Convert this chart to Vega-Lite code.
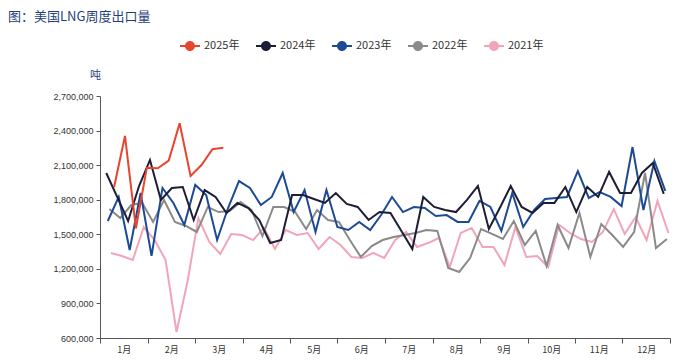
{
"$schema":"https://vega.github.io/schema/vega-lite/v6.json",
"width":570,"height":242,
"autosize":{"type":"none"},
"padding":{"left":100,"top":96,"right":6,"bottom":23},
"background":"white",
"title":{"text":"图：美国LNG周度出口量","anchor":"start","frame":"group","dx":-92,"offset":12,"fontSize":13,"font":"Noto Sans CJK SC","fontWeight":"normal","color":"#1f3f7a"},
"data":{"values":[
{"year":"2021年","day":7,"value":1338000},{"year":"2021年","day":14,"value":1312000},{"year":"2021年","day":21,"value":1277000},{"year":"2021年","day":28,"value":1563000},{"year":"2021年","day":35,"value":1450000},{"year":"2021年","day":42,"value":1277000},{"year":"2021年","day":49,"value":652000},{"year":"2021年","day":56,"value":1086000},{"year":"2021年","day":63,"value":1641000},{"year":"2021年","day":70,"value":1433000},
{"year":"2021年","day":77,"value":1329000},{"year":"2021年","day":84,"value":1503000},{"year":"2021年","day":91,"value":1494000},{"year":"2021年","day":98,"value":1450000},{"year":"2021年","day":105,"value":1555000},{"year":"2021年","day":112,"value":1372000},{"year":"2021年","day":119,"value":1537000},{"year":"2021年","day":126,"value":1494000},{"year":"2021年","day":133,"value":1511000},{"year":"2021年","day":140,"value":1372000},
{"year":"2021年","day":147,"value":1476000},{"year":"2021年","day":154,"value":1407000},{"year":"2021年","day":161,"value":1303000},{"year":"2021年","day":168,"value":1294000},{"year":"2021年","day":175,"value":1338000},{"year":"2021年","day":182,"value":1294000},{"year":"2021年","day":189,"value":1450000},{"year":"2021年","day":196,"value":1520000},{"year":"2021年","day":203,"value":1390000},{"year":"2021年","day":210,"value":1424000},
{"year":"2021年","day":217,"value":1468000},{"year":"2021年","day":224,"value":1216000},{"year":"2021年","day":231,"value":1511000},{"year":"2021年","day":238,"value":1555000},{"year":"2021年","day":245,"value":1390000},{"year":"2021年","day":252,"value":1390000},{"year":"2021年","day":259,"value":1233000},{"year":"2021年","day":266,"value":1563000},{"year":"2021年","day":273,"value":1303000},{"year":"2021年","day":280,"value":1312000},
{"year":"2021年","day":287,"value":1216000},{"year":"2021年","day":294,"value":1581000},{"year":"2021年","day":301,"value":1511000},{"year":"2021年","day":308,"value":1459000},{"year":"2021年","day":315,"value":1433000},{"year":"2021年","day":322,"value":1520000},{"year":"2021年","day":329,"value":1719000},{"year":"2021年","day":336,"value":1503000},{"year":"2021年","day":343,"value":1650000},{"year":"2021年","day":350,"value":1450000},
{"year":"2021年","day":357,"value":1789000},{"year":"2021年","day":364,"value":1511000},
{"year":"2022年","day":6,"value":1719000},{"year":"2022年","day":13,"value":1641000},{"year":"2022年","day":20,"value":1754000},{"year":"2022年","day":27,"value":1772000},{"year":"2022年","day":34,"value":1607000},{"year":"2022年","day":41,"value":1798000},{"year":"2022年","day":48,"value":1607000},{"year":"2022年","day":55,"value":1572000},{"year":"2022年","day":62,"value":1520000},{"year":"2022年","day":69,"value":1737000},
{"year":"2022年","day":76,"value":1693000},{"year":"2022年","day":83,"value":1702000},{"year":"2022年","day":90,"value":1780000},{"year":"2022年","day":97,"value":1711000},{"year":"2022年","day":104,"value":1485000},{"year":"2022年","day":111,"value":1737000},{"year":"2022年","day":118,"value":1737000},{"year":"2022年","day":125,"value":1693000},{"year":"2022年","day":132,"value":1546000},{"year":"2022年","day":139,"value":1711000},
{"year":"2022年","day":146,"value":1624000},{"year":"2022年","day":153,"value":1607000},{"year":"2022年","day":160,"value":1450000},{"year":"2022年","day":167,"value":1303000},{"year":"2022年","day":174,"value":1398000},{"year":"2022年","day":181,"value":1450000},{"year":"2022年","day":188,"value":1476000},{"year":"2022年","day":195,"value":1494000},{"year":"2022年","day":202,"value":1511000},{"year":"2022年","day":209,"value":1537000},
{"year":"2022年","day":216,"value":1529000},{"year":"2022年","day":223,"value":1207000},{"year":"2022年","day":230,"value":1173000},{"year":"2022年","day":237,"value":1294000},{"year":"2022年","day":244,"value":1546000},{"year":"2022年","day":251,"value":1503000},{"year":"2022年","day":258,"value":1459000},{"year":"2022年","day":265,"value":1615000},{"year":"2022年","day":272,"value":1407000},{"year":"2022年","day":279,"value":1529000},
{"year":"2022年","day":286,"value":1225000},{"year":"2022年","day":293,"value":1581000},{"year":"2022年","day":300,"value":1381000},{"year":"2022年","day":307,"value":1685000},{"year":"2022年","day":314,"value":1303000},{"year":"2022年","day":321,"value":1589000},{"year":"2022年","day":328,"value":1494000},{"year":"2022年","day":335,"value":1390000},{"year":"2022年","day":342,"value":1520000},{"year":"2022年","day":349,"value":2032000},
{"year":"2022年","day":356,"value":1381000},{"year":"2022年","day":363,"value":1459000},
{"year":"2023年","day":5,"value":1615000},{"year":"2023年","day":12,"value":1824000},{"year":"2023年","day":19,"value":1364000},{"year":"2023年","day":26,"value":1858000},{"year":"2023年","day":33,"value":1312000},{"year":"2023年","day":40,"value":1902000},{"year":"2023年","day":47,"value":1772000},{"year":"2023年","day":54,"value":1581000},{"year":"2023年","day":61,"value":1928000},{"year":"2023年","day":68,"value":1841000},
{"year":"2023年","day":75,"value":1450000},{"year":"2023年","day":82,"value":1728000},{"year":"2023年","day":89,"value":1962000},{"year":"2023年","day":96,"value":1902000},{"year":"2023年","day":103,"value":1754000},{"year":"2023年","day":110,"value":1824000},{"year":"2023年","day":117,"value":2032000},{"year":"2023年","day":124,"value":1693000},{"year":"2023年","day":131,"value":1884000},{"year":"2023年","day":138,"value":1520000},
{"year":"2023年","day":145,"value":1884000},{"year":"2023年","day":152,"value":1563000},{"year":"2023年","day":159,"value":1537000},{"year":"2023年","day":166,"value":1607000},{"year":"2023年","day":173,"value":1537000},{"year":"2023年","day":180,"value":1667000},{"year":"2023年","day":187,"value":1824000},{"year":"2023年","day":194,"value":1693000},{"year":"2023年","day":201,"value":1737000},{"year":"2023年","day":208,"value":1728000},
{"year":"2023年","day":215,"value":1659000},{"year":"2023年","day":222,"value":1667000},{"year":"2023年","day":229,"value":1607000},{"year":"2023年","day":236,"value":1607000},{"year":"2023年","day":243,"value":1789000},{"year":"2023年","day":250,"value":1737000},{"year":"2023年","day":257,"value":1529000},{"year":"2023年","day":264,"value":1858000},{"year":"2023年","day":271,"value":1563000},{"year":"2023年","day":278,"value":1711000},
{"year":"2023年","day":285,"value":1806000},{"year":"2023年","day":292,"value":1815000},{"year":"2023年","day":299,"value":1824000},{"year":"2023年","day":306,"value":2049000},{"year":"2023年","day":313,"value":1815000},{"year":"2023年","day":320,"value":1867000},{"year":"2023年","day":327,"value":1824000},{"year":"2023年","day":334,"value":1745000},{"year":"2023年","day":341,"value":2257000},{"year":"2023年","day":348,"value":1711000},
{"year":"2023年","day":355,"value":2136000},{"year":"2023年","day":362,"value":1876000},
{"year":"2024年","day":4,"value":2032000},{"year":"2024年","day":11,"value":1824000},{"year":"2024年","day":18,"value":1615000},{"year":"2024年","day":25,"value":1919000},{"year":"2024年","day":32,"value":2145000},{"year":"2024年","day":39,"value":1798000},{"year":"2024年","day":46,"value":1902000},{"year":"2024年","day":53,"value":1910000},{"year":"2024年","day":60,"value":1624000},{"year":"2024年","day":67,"value":1884000},
{"year":"2024年","day":74,"value":1824000},{"year":"2024年","day":81,"value":1685000},{"year":"2024年","day":88,"value":1772000},{"year":"2024年","day":95,"value":1728000},{"year":"2024年","day":102,"value":1624000},{"year":"2024年","day":109,"value":1424000},{"year":"2024年","day":116,"value":1450000},{"year":"2024年","day":123,"value":1841000},{"year":"2024年","day":130,"value":1841000},{"year":"2024年","day":137,"value":1806000},
{"year":"2024年","day":144,"value":1772000},{"year":"2024年","day":151,"value":1858000},{"year":"2024年","day":158,"value":1763000},{"year":"2024年","day":165,"value":1737000},{"year":"2024年","day":172,"value":1624000},{"year":"2024年","day":179,"value":1693000},{"year":"2024年","day":186,"value":1685000},{"year":"2024年","day":193,"value":1529000},{"year":"2024年","day":200,"value":1372000},{"year":"2024年","day":207,"value":1824000},
{"year":"2024年","day":214,"value":1737000},{"year":"2024年","day":221,"value":1711000},{"year":"2024年","day":228,"value":1693000},{"year":"2024年","day":235,"value":1798000},{"year":"2024年","day":242,"value":1919000},{"year":"2024年","day":249,"value":1546000},{"year":"2024年","day":256,"value":1728000},{"year":"2024年","day":263,"value":1919000},{"year":"2024年","day":270,"value":1737000},{"year":"2024年","day":277,"value":1685000},
{"year":"2024年","day":284,"value":1772000},{"year":"2024年","day":291,"value":1772000},{"year":"2024年","day":298,"value":1910000},{"year":"2024年","day":305,"value":1693000},{"year":"2024年","day":312,"value":1910000},{"year":"2024年","day":319,"value":1824000},{"year":"2024年","day":326,"value":2041000},{"year":"2024年","day":333,"value":1858000},{"year":"2024年","day":340,"value":1858000},{"year":"2024年","day":347,"value":2032000},
{"year":"2024年","day":354,"value":2119000},{"year":"2024年","day":361,"value":1850000},
{"year":"2025年","day":9,"value":1908000},{"year":"2025年","day":16,"value":2353000},{"year":"2025年","day":23,"value":1552000},{"year":"2025年","day":30,"value":2078000},{"year":"2025年","day":37,"value":2073000},{"year":"2025年","day":44,"value":2139000},{"year":"2025年","day":51,"value":2463000},{"year":"2025年","day":58,"value":2006000},{"year":"2025年","day":65,"value":2101000},{"year":"2025年","day":72,"value":2238000},
{"year":"2025年","day":79,"value":2251000}
]},
"mark":{"type":"line","strokeWidth":2,"interpolate":"linear"},
"encoding":{
"x":{"field":"day","type":"quantitative","scale":{"domain":[0,365],"nice":false,"zero":false},
"axis":{"values":[0,15.2083,30.4167,45.625,60.8333,76.0417,91.25,106.4583,121.6667,136.875,152.0833,167.2917,182.5,197.7083,212.9167,228.125,243.3333,258.5417,273.75,288.9583,304.1667,319.375,334.5833,349.7917,365],
"labelExpr":"round(datum.value*24/365) % 2 == 1 ? ((round(datum.value*24/365)+1)/2) + '月' : ''",
"tickOpacity":{"condition":{"test":"round(datum.value*24/365) % 2 == 0","value":1},"value":0},
"title":null,"grid":false,"labelFontSize":9,"labelColor":"#333333","labelFont":"Noto Sans CJK SC","tickSize":5,"domainColor":"#555555","tickColor":"#555555","labelFlush":false,"labelOverlap":false,"labelPadding":2}},
"y":{"field":"value","type":"quantitative","scale":{"domain":[600000,2700000],"nice":false,"zero":false},
"axis":{"values":[600000,900000,1200000,1500000,1800000,2100000,2400000,2700000],"format":",.0f","title":"吨","titleAngle":0,"titleX":-5,"titleY":-21,"titleAlign":"center","titleBaseline":"middle","titleFontSize":11,"titleFontWeight":"normal","titleColor":"#1f3f7a","titleFont":"Noto Sans CJK SC","labelFontSize":9,"labelColor":"#333333","tickSize":4,"domainColor":"#555555","tickColor":"#555555","grid":false,"labelPadding":3}},
"color":{"field":"year","type":"nominal","scale":{"domain":["2025年","2024年","2023年","2022年","2021年"],"range":["#e8442e","#1d1d35","#1c4a94","#8a8a8a","#f2a5b8"]},
"legend":{"orient":"none","legendX":80,"legendY":-60,"direction":"horizontal","title":null,"symbolType":"M-1,-0.1L1,-0.1L1,0.1L-1,0.1Z M0.5,0A0.5,0.5,0,1,1,-0.5,0A0.5,0.5,0,1,1,0.5,0Z","symbolSize":400,"symbolStrokeWidth":0,"labelFontSize":11,"labelColor":"#333333","labelFont":"Noto Sans CJK SC","columnPadding":16,"labelOffset":4,
"encode":{"symbols":{"update":{"fill":{"scale":"color","field":"value"},"fillOpacity":{"value":1}}}}}}
},
"config":{"view":{"stroke":null}}
}
